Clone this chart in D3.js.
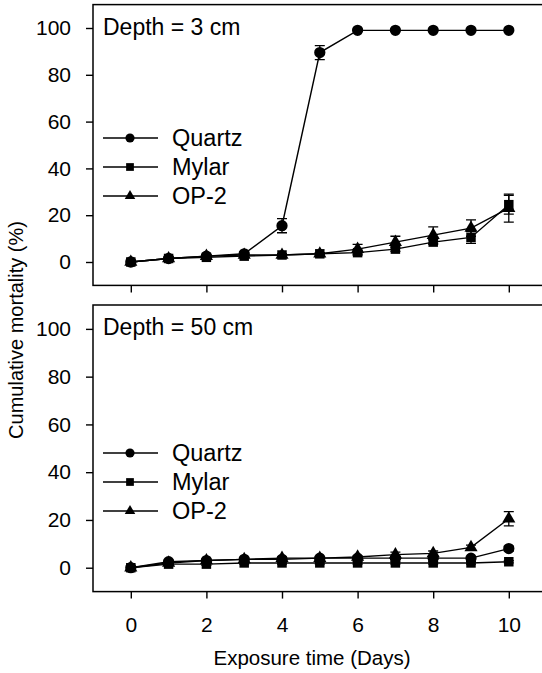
<!DOCTYPE html>
<html>
<head>
<meta charset="utf-8">
<title>Cumulative mortality</title>
<script src="https://cdn.jsdelivr.net/npm/d3@7"></script>
<style>
body, html {
  margin: 0;
  background: white;
}
svg text {
  font-family: "Liberation Sans", Arial, sans-serif;
  fill: black;
}
.axis path, .axis line {
  stroke: black;
  stroke-width: 1.4px;
}
.axis text {
  font-size: 21px;
}
</style>
</head>
<body>
<script>
// exposure days
var days = [0, 1, 2, 3, 4, 5, 6, 7, 8, 9, 10];
var xTicks = [0, 2, 4, 6, 8, 10];
var yTicks = [0, 20, 40, 60, 80, 100];
var seriesNames = ["Quartz", "Mylar", "OP-2"];

// depth = 3 cm
var quartz3 = [0, 1.5, 2.5, 3.5, 15.5, 89.5, 99, 99, 99, 99, 99];
var quartz3Err = [0, 0.5, 0.5, 0.5, 3, 3, 0, 0, 0, 0, 0];
var mylar3 = [0, 1.5, 2, 2.5, 3, 3.5, 4, 5.5, 8.5, 10.5, 24.5];
var mylar3Err = [0, 0.5, 0.5, 0.5, 0.5, 0.5, 1, 1, 1, 2.5, 4];
var op3 = [0, 1.5, 2.5, 3, 3, 3.5, 5.5, 8.5, 11.5, 14.5, 23];
var op3Err = [0, 0.5, 0.5, 0.5, 0.5, 0.5, 2, 2.5, 3.5, 3.5, 6];

// depth = 50 cm
var quartz50 = [0, 2.5, 3, 3.5, 3.5, 4, 4, 4, 4, 4, 8];
var quartz50Err = [0, 0.5, 0.5, 0.5, 0.5, 0.5, 0.5, 0.5, 0.5, 0.5, 1];
var mylar50 = [0, 1.5, 1.5, 2, 2, 2, 2, 2, 2, 2, 2.5];
var mylar50Err = [0, 0.5, 0.5, 0.5, 0.5, 0.5, 0.5, 0.5, 0.5, 0.5, 0.5];
var op50 = [0, 2, 3, 3.5, 4, 4, 4.5, 5.5, 6, 8.5, 20.5];
var op50Err = [0, 0.5, 0.5, 0.5, 0.5, 0.5, 0.5, 1, 1, 1, 3];

var W = 542, H = 673;

var svg = d3.select("body").append("svg")
    .attr("width", W)
    .attr("height", H);

var x = d3.scaleLinear()
    .domain([-1, 11])
    .range([93, 546.6]);

var symbols = {
  "Quartz": d3.symbolCircle,
  "Mylar": d3.symbolSquare,
  "OP-2": d3.symbolTriangle
};
var symSize = { "Quartz": 100, "Mylar": 90, "OP-2": 75 };
var legSize = { "Quartz": 66, "Mylar": 60, "OP-2": 48 };

function panel(top, bottom, label, data, legendY, showXLabels) {
  var y = d3.scaleLinear()
      .domain([-10, 110])
      .range([bottom, top]);

  var g = svg.append("g");

  // frame
  g.append("rect")
      .attr("x", x(-1))
      .attr("y", top)
      .attr("width", x(11) - x(-1))
      .attr("height", bottom - top)
      .attr("fill", "none")
      .attr("stroke", "black")
      .attr("stroke-width", 1.5);

  g.append("g")
      .attr("class", "axis")
      .attr("transform", "translate(" + x(-1) + ",0)")
      .call(d3.axisLeft(y).tickValues(yTicks).tickSize(7).tickPadding(15).tickSizeOuter(0))
      .call(function(a) { a.select(".domain").remove(); });

  g.append("g")
      .attr("class", "axis")
      .attr("transform", "translate(0," + bottom + ")")
      .call(d3.axisBottom(x).tickValues(xTicks).tickSize(7).tickPadding(18)
        .tickFormat(showXLabels ? d3.format("d") : function() { return ""; }))
      .call(function(a) { a.select(".domain").remove(); });

  g.append("text")
      .attr("x", 103)
      .attr("y", top + 30)
      .style("font-size", "23px")
      .text(label);

  var line = d3.line()
      .x(function(d) { return x(d[0]); })
      .y(function(d) { return y(d[1]); });

  // draw OP-2 first so the other markers sit on top
  data.slice().reverse().forEach(function(s) {
    var pts = days.map(function(d, i) { return [d, s.values[i], s.err[i]]; });
    var sg = g.append("g");

    sg.selectAll("g.err")
      .data(pts.filter(function(p) { return p[2] > 0; }))
      .enter().append("path")
        .attr("fill", "none")
        .attr("stroke", "black")
        .attr("stroke-width", 1.3)
        .attr("d", function(p) {
          var cx = x(p[0]), y1 = y(p[1] + p[2]), y2 = y(p[1] - p[2]);
          return "M" + (cx - 5) + "," + y1 + "H" + (cx + 5) +
                 "M" + cx + "," + y1 + "V" + y2 +
                 "M" + (cx - 5) + "," + y2 + "H" + (cx + 5);
        });

    sg.append("path")
        .datum(pts)
        .attr("fill", "none")
        .attr("stroke", "black")
        .attr("stroke-width", 1.4)
        .attr("d", line);

    sg.selectAll("path.mk")
      .data(pts)
      .enter().append("path")
        .attr("class", "mk")
        .attr("transform", function(p) { return "translate(" + x(p[0]) + "," + y(p[1]) + ")"; })
        .attr("d", d3.symbol().type(symbols[s.name]).size(symSize[s.name]))
        .attr("fill", "black");
  });

  // legend
  data.forEach(function(s, i) {
    var ly = legendY + i * 29;
    g.append("line")
        .attr("x1", 103).attr("x2", 158)
        .attr("y1", ly).attr("y2", ly)
        .attr("stroke", "black")
        .attr("stroke-width", 1.4);
    g.append("path")
        .attr("transform", "translate(130," + ly + ")")
        .attr("d", d3.symbol().type(symbols[s.name]).size(legSize[s.name]))
        .attr("fill", "black");
    g.append("text")
        .attr("x", 172)
        .attr("y", ly + 8)
        .style("font-size", "23.5px")
        .text(s.name);
  });
}

panel(4.6, 285.4, "Depth = 3 cm", [
  { name: seriesNames[0], values: quartz3, err: quartz3Err },
  { name: seriesNames[1], values: mylar3, err: mylar3Err },
  { name: seriesNames[2], values: op3, err: op3Err }
], 138, false);

panel(305, 591.6, "Depth = 50 cm", [
  { name: seriesNames[0], values: quartz50, err: quartz50Err },
  { name: seriesNames[1], values: mylar50, err: mylar50Err },
  { name: seriesNames[2], values: op50, err: op50Err }
], 453, true);

svg.append("text")
    .attr("transform", "translate(23,330) rotate(-90)")
    .attr("text-anchor", "middle")
    .style("font-size", "20px")
    .text("Cumulative mortality (%)");

svg.append("text")
    .attr("x", 312)
    .attr("y", 665)
    .attr("text-anchor", "middle")
    .style("font-size", "20.5px")
    .text("Exposure time (Days)");
</script>
</body>
</html>
